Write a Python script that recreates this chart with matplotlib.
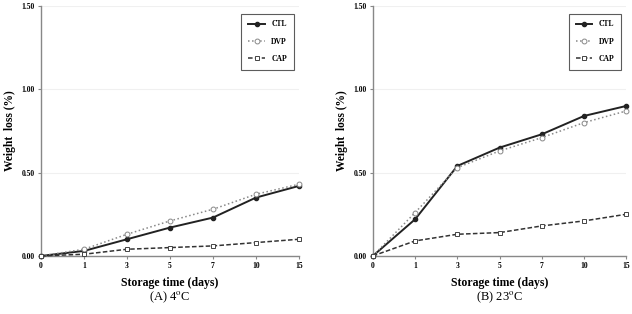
import numpy as np
import matplotlib.pyplot as plt

plt.rcParams['font.family'] = ['Liberation Serif', 'DejaVu Serif']
plt.rcParams['mathtext.fontset'] = 'stix'

days = ['0', '1', '3', '5', '7', '10', '15']

# (A) 4 C
ctl_a = [0.00, 0.03, 0.10, 0.17, 0.23, 0.35, 0.42]
dvp_a = [0.00, 0.04, 0.13, 0.21, 0.28, 0.37, 0.43]
cap_a = [0.00, 0.01, 0.04, 0.05, 0.06, 0.08, 0.10]

# (B) 23 C
ctl_b = [0.00, 0.22, 0.54, 0.65, 0.73, 0.84, 0.90]
dvp_b = [0.00, 0.26, 0.53, 0.63, 0.71, 0.80, 0.87]
cap_b = [0.00, 0.09, 0.13, 0.14, 0.18, 0.21, 0.25]

captions = ['(A) 4$^{\\mathrm{o}}$C', '(B) 23$^{\\mathrm{o}}$C']

fig = plt.figure(figsize=(6.32, 3.14), dpi=100)
ax1 = fig.add_axes([0.065, 0.185, 0.408, 0.796])
ax2 = fig.add_axes([0.590, 0.185, 0.401, 0.796])

x = np.arange(len(days))
for ax, ctl, dvp, cap, cap_txt in [(ax1, ctl_a, dvp_a, cap_a, captions[0]),
                                   (ax2, ctl_b, dvp_b, cap_b, captions[1])]:
    ax.plot(x, ctl, '-', color='#222222', lw=1.4, marker='o', ms=3,
            mfc='#222222', mec='#222222', label='CTL', clip_on=False, zorder=3)
    ax.plot(x, dvp, ':', color='#888888', lw=1.1, marker='o', ms=3.5,
            mfc='white', mec='#888888', mew=0.7, label='DVP', clip_on=False, zorder=3)
    ax.plot(x, cap, '--', color='#333333', lw=1.1, marker='s', ms=3.5,
            mfc='white', mec='#444444', mew=0.7, label='CAP', clip_on=False,
            zorder=3, dashes=(3, 1.5))
    ax.set_xlim(0, len(days) - 1)
    ax.set_ylim(0, 1.5)
    ax.set_xticks(x)
    ax.set_xticklabels(days, fontsize=5.5, fontweight='bold')
    ax.set_yticks([0, 0.5, 1.0, 1.5])
    ax.set_yticklabels(['0.00', '0.50', '1.00', '1.50'], fontsize=5.5, fontweight='bold')
    ax.grid(axis='y', color='#f0f0f0', lw=0.8)
    ax.set_axisbelow(True)
    for s in ['top', 'right']:
        ax.spines[s].set_visible(False)
    for s in ['left', 'bottom']:
        ax.spines[s].set_color('#888888')
        ax.spines[s].set_linewidth(1.0)
    ax.tick_params(length=2.5, width=0.8, color='#888888', pad=2)
    ax.set_xlabel('Storage time (days)', fontsize=8.5, fontweight='bold', labelpad=5)
    ax.set_ylabel('Weight  loss (%)', fontsize=8.3, fontweight='bold', labelpad=4)
    leg = ax.legend(loc='upper right', frameon=True, fancybox=False,
                    edgecolor='#333333', handlelength=2.2, labelspacing=1.2,
                    borderpad=0.9, prop={'weight': 'bold', 'size': 5.5},
                    bbox_to_anchor=(0.995, 0.985))
    leg.get_frame().set_linewidth(0.8)
    ax.text(0.5, -0.164, cap_txt, transform=ax.transAxes, ha='center', va='center',
            fontsize=9)

fig.savefig('out.png', dpi=100)
